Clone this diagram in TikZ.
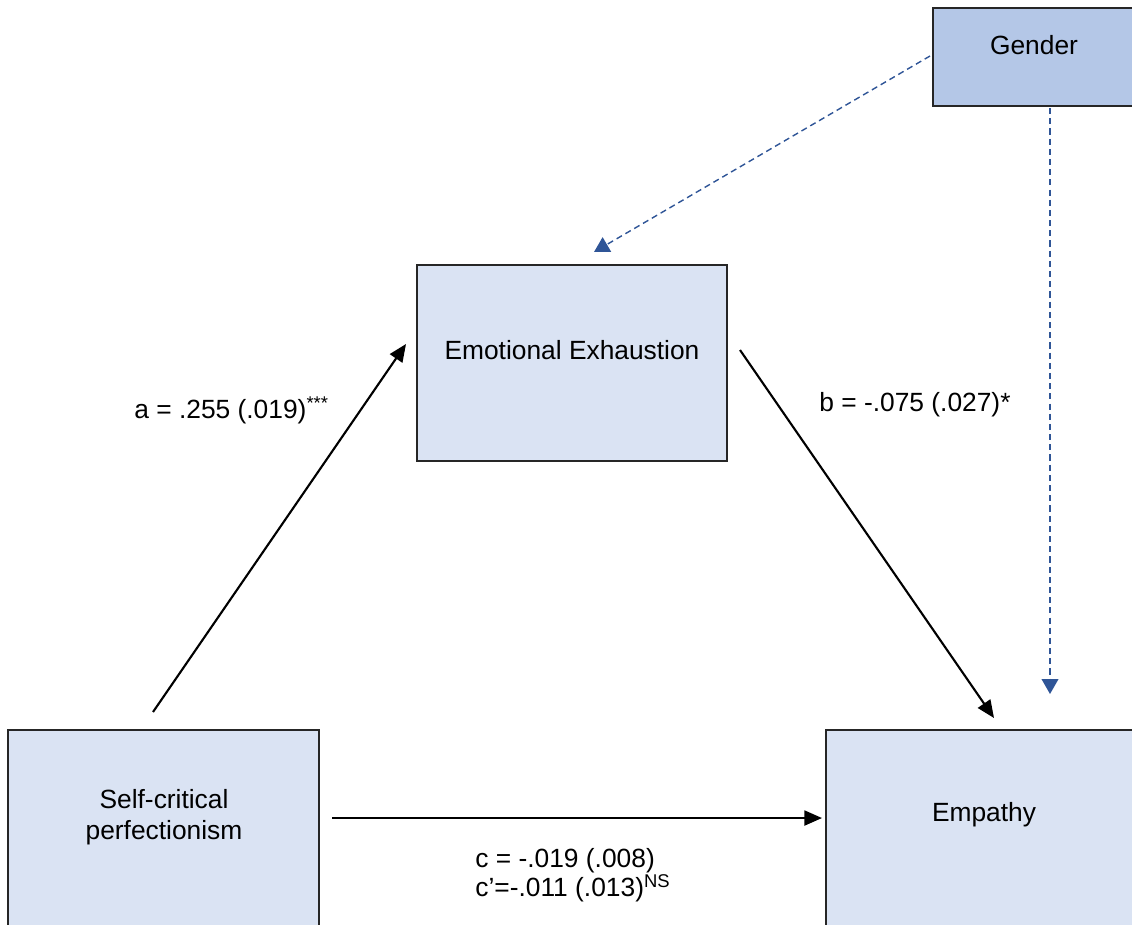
\documentclass[tikz,border=0pt]{standalone}
\usepackage{fontspec}
\setmainfont{Liberation Sans}
\usetikzlibrary{arrows.meta}
\definecolor{lightbox}{HTML}{DAE3F3}
\definecolor{genderbox}{HTML}{B4C7E7}
\definecolor{dashblue}{HTML}{2F5597}
\tikzset{
  varbox/.style={draw=black!85, line width=0.8pt, fill=lightbox},
  lbl/.style={font=\fontsize{15}{18}\selectfont, align=center, inner sep=0pt},
  patharrow/.style={line width=1.2pt, -{Triangle[length=10pt,width=8.5pt]}},
  modarrow/.style={draw=dashblue, line width=0.8pt, dash pattern=on 3.5pt off 2.3pt, -{Triangle[length=8.5pt,width=9.5pt,fill=dashblue]}}
}
\begin{document}
\begin{tikzpicture}[x=0.02cm,y=-0.02cm]
\useasboundingbox (0,0) rectangle (1132,924);
\clip (0,0) rectangle (1132,924);
% boxes
\draw[varbox, fill=genderbox] (933,8) rectangle (1140,106);
\node[lbl] (gender) at (1034,45) {Gender};
\draw[varbox] (417,265) rectangle (727,461);
\node[lbl] (ee) at (572,350) {Emotional Exhaustion};
\draw[varbox] (8,730) rectangle (319,940);
\node[lbl] (scp) at (164,817) {Self-critical\\perfectionism};
\draw[varbox] (826,730) rectangle (1140,940);
\node[lbl] (emp) at (984,815) {Empathy};
% coordinates
\coordinate (a1) at (153,712);
\coordinate (a2) at (406,344);
\coordinate (b1) at (740,350);
\coordinate (b2) at (994,718);
\coordinate (c1) at (332,818);
\coordinate (c2) at (822,818);
\coordinate (g1) at (930,56);
\coordinate (g2) at (594,252);
\coordinate (h1) at (1050,108);
\coordinate (h2) at (1050,694);
% arrows
\draw[patharrow] (a1) -- (a2);
\draw[patharrow] (b1) -- (b2);
\draw[patharrow] (c1) -- (c2);
\draw[modarrow] (g1) -- (g2);
\draw[modarrow] (h1) -- (h2);
% labels
\node[lbl, anchor=west] (la) at (134,410) {a = .255 (.019)\textsuperscript{***}};
\node[lbl, anchor=west] (lb) at (819,405) {b = -.075 (.027)*};
\node[lbl, anchor=west, align=left, font=\fontsize{15}{13.6}\selectfont] (lc) at (475,875) {c = -.019 (.008)\\c’=-.011 (.013)\textsuperscript{NS}};
\end{tikzpicture}
\end{document}
